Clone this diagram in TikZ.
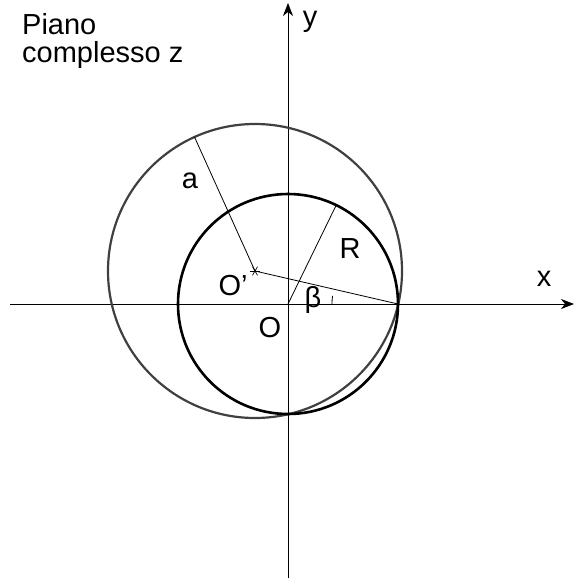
\documentclass[tikz,border=0pt]{standalone}
\usepackage{fontspec}
\setmainfont{Liberation Sans}
\usetikzlibrary{arrows.meta}
\begin{document}
\begin{tikzpicture}[x=1pt,y=1pt,
  axis/.style={line width=0.8pt,-{Stealth[length=13pt,width=10pt,inset=4pt]}},
  smallc/.style={line width=2.6pt,black},
  bigc/.style={line width=2.2pt,black!75},
  thin/.style={line width=0.8pt},
  lbl/.style={inner sep=0pt,font=\fontsize{29}{32}\selectfont}]
\useasboundingbox (0,0) rectangle (574,-580);
% points
\coordinate (O) at (288,-304);
\coordinate (P) at (398,-304);
\coordinate (Op) at (255,-271);
\coordinate (xl) at (10,-304);
\coordinate (xr) at (574,-304);
\coordinate (yb) at (288,-578);
\coordinate (yt) at (288,-3);
\path (Op) ++(114.3:147) coordinate (A);
\path (O) ++(64:110) coordinate (Rp);
% axes
\draw[axis] (xl) -- (xr);
\draw[axis] (yb) -- (yt);
% circles
\draw[bigc] (Op) circle[radius=147];
\draw[smallc] (O) circle[radius=110];
% radii
\draw[thin] (Op) -- (A);
\draw[thin] (O) -- (Rp);
\draw[thin] (Op) -- (P);
\draw[thin] (P) ++(180:66) arc[start angle=180,end angle=173,radius=66];
% asterisk at O'
\foreach \ang in {0,60,120}
  \draw[line width=0.7pt] (Op) ++(\ang:5) -- ++(\ang+180:10);
% labels
\node[lbl,anchor=base west] (t1) at (22,-35) {Piano};
\node[lbl,anchor=base west] (t2) at (22,-63) {complesso z};
\node[lbl] (ly) at (310,-22) {y};
\node[lbl] (lx) at (544,-279) {x};
\node[lbl] (la) at (190,-181) {a};
\node[lbl] (lR) at (350,-249) {R};
\node[lbl] (lOp) at (233,-286) {O’};
\node[lbl] (lO) at (270,-328) {O};
\node[lbl] (lb) at (313,-300) {β};
\end{tikzpicture}
\end{document}
